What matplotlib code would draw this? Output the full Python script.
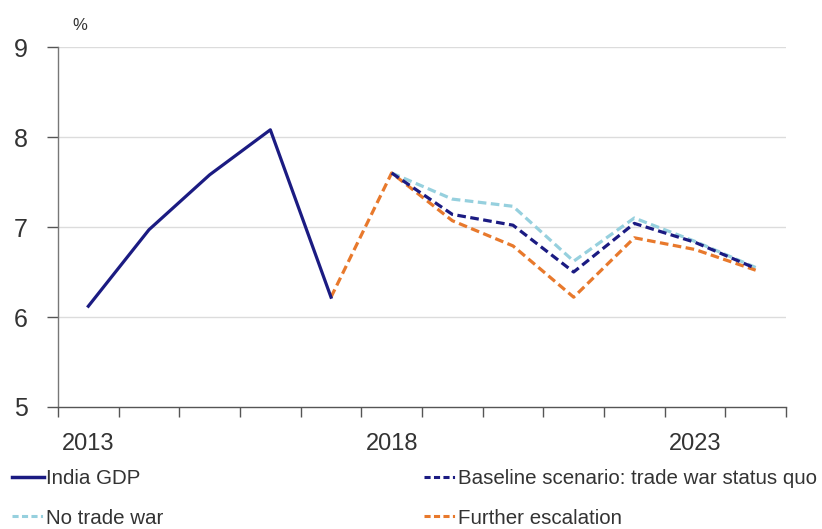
import matplotlib
matplotlib.use("Agg")
import matplotlib.pyplot as plt
from matplotlib.lines import Line2D

plt.rcParams['font.family'] = ['Liberation Sans', 'DejaVu Sans']

years = [2013, 2014, 2015, 2016, 2017, 2018, 2019, 2020, 2021, 2022, 2023, 2024]
india_gdp = [6.12, 6.97, 7.58, 8.08, 6.22, None, None, None, None, None, None, None]
baseline = [None, None, None, None, None, 7.6, 7.14, 7.02, 6.50, 7.04, 6.83, 6.54]
no_trade_war = [None, None, None, None, None, 7.6, 7.31, 7.23, 6.62, 7.10, 6.84, 6.55]
escalation = [None, None, None, None, 6.22, 7.6, 7.07, 6.79, 6.22, 6.88, 6.75, 6.52]
tick_years = ["2013", "2018", "2023"]

navy = "#1b1b82"
light_blue = "#96d0de"
orange = "#e8792c"
grid_grey = "#dcdcdc"
text_col = "#333333"

fig = plt.figure(figsize=(8.22, 5.29), dpi=100)
ax = fig.add_axes([58 / 822, 1 - 407 / 529, 728 / 822, 360 / 529])

x = list(range(len(years)))


def series(vals):
    xs = [i for i, v in zip(x, vals) if v is not None]
    ys = [v for v in vals if v is not None]
    return xs, ys


lw = 2.3
dash = (2.7, 1.4)
ax.plot(*series(no_trade_war), color=light_blue, lw=lw, dashes=dash, zorder=3)
ax.plot(*series(escalation), color=orange, lw=lw, dashes=dash, zorder=4)
ax.plot(*series(baseline), color=navy, lw=lw, dashes=dash, zorder=5)
ax.plot(*series(india_gdp), color=navy, lw=lw, zorder=6)

ax.set_xlim(-0.5, len(years) - 0.5)
ax.set_ylim(5, 9)
ax.set_yticks([5, 6, 7, 8, 9])
ax.set_yticklabels(["5", "6", "7", "8", "9"])
for yv in [6, 7, 8, 9]:
    ax.axhline(yv, color=grid_grey, lw=1.0, zorder=1)

ax.set_xticks([years.index(int(t)) for t in tick_years])
ax.set_xticklabels(tick_years)
ax.set_xticks([i - 0.5 for i in range(len(years) + 1)], minor=True)
ax.tick_params(axis='x', which='major', length=0, pad=19, labelsize=17, colors=text_col)
ax.tick_params(axis='x', which='minor', length=7, width=1, color="#555555", direction='out')
ax.tick_params(axis='y', which='major', length=8, width=1, color="#555555", pad=14,
               labelsize=18, labelcolor=text_col)

for side in ["top", "right"]:
    ax.spines[side].set_visible(False)
ax.spines["left"].set_color("#777777")
ax.spines["bottom"].set_color("#555555")
ax.spines["left"].set_linewidth(1.0)
ax.spines["bottom"].set_linewidth(1.0)

fig.text(72 / 822, 1 - 26 / 529, "%", fontsize=12, color=text_col, va="center")

legend_dash = (2.0, 1.1, 2.0, 1.1, 2.0, 1.1, 0.7, 1.1)
col1_handles = [
    Line2D([], [], color=navy, lw=2.5),
    Line2D([], [], color=light_blue, lw=2.2, dashes=legend_dash),
]
col1_labels = ["India GDP", "No trade war"]
col2_handles = [
    Line2D([], [], color=navy, lw=2.2, dashes=legend_dash),
    Line2D([], [], color=orange, lw=2.2, dashes=legend_dash),
]
col2_labels = ["Baseline scenario: trade war status quo", "Further escalation"]

legend_kw = dict(loc="upper left", frameon=False, fontsize=14.8, handlelength=1.55,
                 handletextpad=0.1, labelspacing=1.0, borderaxespad=0, borderpad=0,
                 labelcolor=text_col)
fig.legend(col1_handles, col1_labels, bbox_to_anchor=(12 / 822, 1 - 469 / 529), **legend_kw)
fig.legend(col2_handles, col2_labels, bbox_to_anchor=(424 / 822, 1 - 469 / 529), **legend_kw)

fig.savefig("out.png", dpi=100)
